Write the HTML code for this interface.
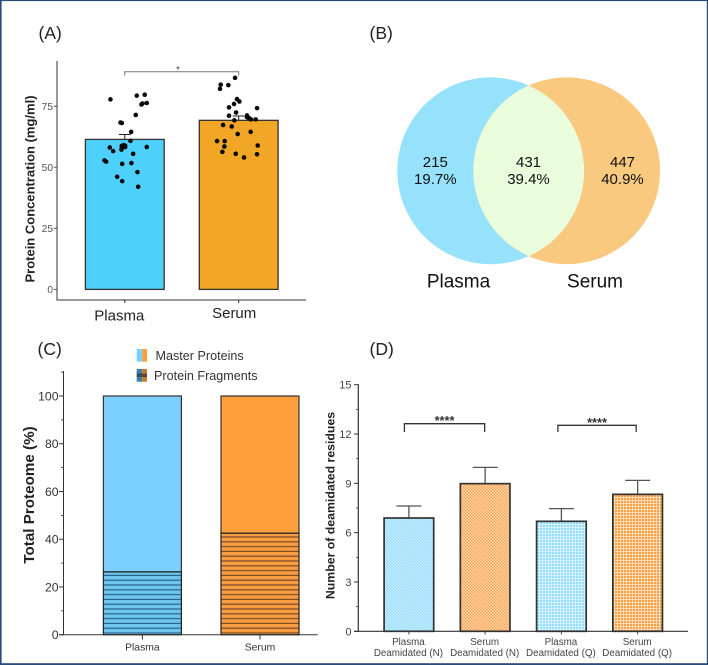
<!DOCTYPE html>
<html>
<head>
<meta charset="utf-8">
<title>Plasma and serum proteome figure</title>
<style>
html,body{margin:0;padding:0;background:#fff;}
svg{display:block;font-family:"Liberation Sans",sans-serif;filter:blur(0.35px);}
</style>
</head>
<body>
<svg id="fig" xmlns="http://www.w3.org/2000/svg" width="708" height="665" viewBox="0 0 708 665">
<defs>
<pattern id="hatchBlue" width="6" height="4.8" patternUnits="userSpaceOnUse"><rect width="6" height="4.8" fill="#6cc6ee"/><rect y="3.6" width="6" height="1.2" fill="#2c6288"/></pattern>
<pattern id="hatchOrange" width="6" height="4.8" patternUnits="userSpaceOnUse"><rect width="6" height="4.8" fill="#f79c40"/><rect y="3.6" width="6" height="1.2" fill="#7a4d24"/></pattern>
<pattern id="checkBlue" width="3" height="3" patternUnits="userSpaceOnUse"><rect width="3" height="3" fill="#d2f0ff"/><rect width="1.5" height="1.5" fill="#8fdcff"/><rect x="1.5" y="1.5" width="1.5" height="1.5" fill="#8fdcff"/></pattern>
<pattern id="checkOrange" width="3" height="3" patternUnits="userSpaceOnUse"><rect width="3" height="3" fill="#ffdcb8"/><rect width="1.5" height="1.5" fill="#ffa04a"/><rect x="1.5" y="1.5" width="1.5" height="1.5" fill="#ffa04a"/></pattern>
<pattern id="gridBlue" width="3" height="3" patternUnits="userSpaceOnUse"><rect width="3" height="3" fill="#dff5ff"/><rect width="2.1" height="2.1" fill="#92dcff"/></pattern>
<pattern id="gridOrange" width="3" height="3" patternUnits="userSpaceOnUse"><rect width="3" height="3" fill="#ffe0c0"/><rect width="2.1" height="2.1" fill="#ff9f42"/></pattern>
<clipPath id="vennLeftClip"><circle cx="490.7" cy="170.8" r="93.4"/></clipPath>
</defs>

<rect x="0" y="0" width="1.6" height="665" fill="#2a4a78"/>
<rect x="0" y="0" width="708" height="1.1" fill="#2a4a78"/>
<rect x="706.8" y="0" width="1.2" height="665" fill="#2a4a78"/>
<rect x="0" y="663.2" width="708" height="1.8" fill="#2a4a78"/>

<text x="38.5" y="39" font-size="17.5" fill="#222">(A)</text>
<text x="369.5" y="39" font-size="17.5" fill="#222">(B)</text>
<text x="37.5" y="355" font-size="17.5" fill="#222">(C)</text>
<text x="369.5" y="355" font-size="17.5" fill="#222">(D)</text>

<g id="panelA"></g>

<g id="panelB">
<circle cx="490.7" cy="170.8" r="93.4" fill="#96e2fc"/>
<circle cx="566.7" cy="170.8" r="93.4" fill="#f8c97e"/>
<circle cx="566.7" cy="170.8" r="93.4" fill="#e9fcdb" clip-path="url(#vennLeftClip)"/>
<g font-size="15" fill="#111" text-anchor="middle">
<text x="435.3" y="167">215</text>
<text x="435.3" y="184">19.7%</text>
<text x="528.5" y="167">431</text>
<text x="528.5" y="184">39.4%</text>
<text x="622.5" y="167">447</text>
<text x="622.5" y="184">40.9%</text>
</g>
<text x="458.5" y="287.5" font-size="19" fill="#111" text-anchor="middle">Plasma</text>
<text x="595" y="287.5" font-size="19" fill="#111" text-anchor="middle">Serum</text>
</g>

<g id="panelC">
<g>
<rect x="136.7" y="349" width="5.5" height="12.7" fill="#7bd0ff"/>
<rect x="142.2" y="349" width="4.8" height="12.7" fill="#ff9f3b"/>
<text x="155.5" y="360" font-size="12.6" fill="#333">Master Proteins</text>
</g>
<g>
<rect x="136.7" y="369" width="5.5" height="12.7" fill="#3a80a8"/>
<rect x="142.2" y="369" width="4.8" height="12.7" fill="#c67a30"/>
<rect x="136.7" y="373.5" width="10.3" height="3.5" fill="#3a3a3a" opacity="0.75"/>
<text x="154" y="380" font-size="12.6" fill="#333">Protein Fragments</text>
</g>
</g>

<g id="panelD"></g>
</svg>

<script>
// ---- Panel A data ----
var aCategories = ['Plasma', 'Serum'];
var aMeans = [61.4, 69.2];
var aErrorTops = [63.4, 71.0];
var aTicks = [0, 25, 50, 75];
var aPlasmaValues = [77.8,79.3,79.7,76.3,75.7,76.1,71.4,68.3,68.1,64.5,60.8,58.8,58.8,59.1,58.1,58.3,57.2,58.1,56.6,58.3,55.5,52.8,52.3,51.4,51.7,48.0,46.1,44.3,42.0];
var aPlasmaJitter = [-.126,.105,.175,.193,.146,.155,.096,-.038,-.026,.056,.05,-.026,.003,-.009,-.026,.003,-.029,-.132,-.102,.193,.073,-.178,-.164,-.023,.058,.111,-.067,-.023,.117];
var aSerumValues = [86.6,83.8,83.6,82.1,77.9,76.9,75.9,74.5,74.2,72.4,71.1,71.2,70.5,70.1,69.6,69.6,69.2,67.3,66.7,64.5,63.6,60.7,60.7,58.5,58.9,56.3,55.5,55.3,54.0];
var aSerumJitter = [-.032,-.158,-.091,-.164,-.015,.006,-.041,-.085,.161,-.023,-.085,.073,.073,.091,.108,.149,-.038,-.137,-.061,.105,-.009,-.19,-.123,-.126,.167,-.143,-.026,.161,.047];

// ---- Panel C data ----
var cCategories = ['Plasma', 'Serum'];
var cFragments = [26.3, 42.5];
var cMasters = [73.7, 57.5];
var cTicks = [0, 20, 40, 60, 80, 100];

// ---- Panel D data ----
var dLine1 = ['Plasma', 'Serum', 'Plasma', 'Serum'];
var dLine2 = ['Deamidated (N)', 'Deamidated (N)', 'Deamidated (Q)', 'Deamidated (Q)'];
var dMeans = [6.89, 8.98, 6.69, 8.33];
var dErrorTops = [7.62, 9.97, 7.46, 9.18];
var dTicks = [0, 3, 6, 9, 12, 15];
var dBracketLevels = [12.63, 12.53];

var NS = 'http://www.w3.org/2000/svg';
function make(parent, tag, props, txt) {
  var el = document.createElementNS(NS, tag);
  for (var k in props) { el.setAttribute(k, props[k]); }
  if (txt !== undefined) { el.textContent = txt; }
  parent.appendChild(el);
  return el;
}

// ---------- Panel A ----------
(function () {
  var g = document.getElementById('panelA');
  function y(v) { return 289.4 - v * 2.443; }
  function x(i) { return 124.8 + i * 113.9; }
  var el;
  el = make(g, 'line', {x1: 57, y1: 61, x2: 57, y2: 300.4, stroke: '#333', 'stroke-width': 1});
  
  
  el = make(g, 'line', {x1: 56.5, y1: 300, x2: 306, y2: 300, stroke: '#333', 'stroke-width': 1});
  
  
  aTicks.forEach(function (t) {
    el = make(g, 'line', {x1: 53.8, x2: 57, y1: y(t), y2: y(t), stroke: '#555', 'stroke-width': 1});
    
    
    el = make(g, 'text', {x: 53, y: y(t) + 3.8, 'font-size': 10.2, fill: '#555', 'text-anchor': 'end'}, t);
    
    
  });
  el = make(g, 'text', {x: 0, y: 0, transform: 'translate(34.5,189) rotate(-90)', 'font-size': 13, 'font-weight': 'bold', fill: '#222', 'text-anchor': 'middle'}, 'Protein Concentration (mg/ml)');
  
  
  var fills = ['#4dd0fc', '#f2a626'];
  var labelDx = [-5.5, -4.5];
  var labelY = [320.5, 318];
  aCategories.forEach(function (c, i) {
    el = make(g, 'rect', {x: x(i) - 39.4, y: y(aMeans[i]), width: 78.8, height: y(0) - y(aMeans[i]), fill: fills[i], stroke: '#333', 'stroke-width': 1.3});
    
    
    el = make(g, 'line', {x1: x(i), x2: x(i), y1: 300, y2: 303, stroke: '#333', 'stroke-width': 1});
    
    
    el = make(g, 'text', {x: x(i) + labelDx[i], y: labelY[i], 'font-size': 15, fill: '#222', 'text-anchor': 'middle'}, c);
    
    
    el = make(g, 'path', {d: 'M' + x(i) + ' ' + y(aMeans[i]) + 'V' + y(aErrorTops[i]) + 'M' + (x(i) - 6) + ' ' + y(aErrorTops[i]) + 'H' + (x(i) + 6), fill: 'none', stroke: '#222', 'stroke-width': 1});
    
    
  });
  function dots(vals, jit, i) {
    vals.forEach(function (v, k) {
      var d = make(g, 'circle', {cx: x(i) + jit[k] * 113.9, cy: y(v), r: 2.3, fill: '#0a0a0a'});
      
      
    });
  }
  dots(aPlasmaValues, aPlasmaJitter, 0);
  dots(aSerumValues, aSerumJitter, 1);
  el = make(g, 'path', {d: 'M' + x(0) + ' 75.5V71.7H' + x(1) + 'V75.5', fill: 'none', stroke: '#777', 'stroke-width': 1});
  
  
  el = make(g, 'text', {x: 178, y: 73, 'font-size': 10, fill: '#444', 'text-anchor': 'middle'}, '*');
  
  
})();

// ---------- Panel C ----------
(function () {
  var g = document.getElementById('panelC');
  function y(v) { return 634.7 - v * 2.387; }
  function x(i) { return 142.4 + i * 117.6; }
  var el;
  var masterFill = ['#7bd0ff', '#ff9f3b'];
  var fragFill = ['url(#hatchBlue)', 'url(#hatchOrange)'];
  cCategories.forEach(function (c, i) {
    var top = cFragments[i] + cMasters[i];
    el = make(g, 'rect', {x: x(i) - 39, y: y(top), width: 78, height: y(cFragments[i]) - y(top), fill: masterFill[i], stroke: '#333', 'stroke-width': 1.2});
    
    
    el = make(g, 'rect', {x: x(i) - 39, y: y(cFragments[i]), width: 78, height: y(0) - y(cFragments[i]), fill: fragFill[i], stroke: '#222', 'stroke-width': 1.2});
    
    
    el = make(g, 'line', {x1: x(i), x2: x(i), y1: 634.7, y2: 639.5, stroke: '#333', 'stroke-width': 1});
    
    
    el = make(g, 'text', {x: x(i), y: 650.5, 'font-size': 10.4, fill: '#333', 'text-anchor': 'middle'}, c);
    
    
  });
  el = make(g, 'line', {x1: 63.5, y1: 371, x2: 63.5, y2: 635.2, stroke: '#333', 'stroke-width': 1});
  
  
  el = make(g, 'line', {x1: 59, y1: 634.7, x2: 317.7, y2: 634.7, stroke: '#333', 'stroke-width': 1});
  
  
  cTicks.forEach(function (t, k) {
    el = make(g, 'line', {x1: 59, x2: 63.5, y1: y(t), y2: y(t), stroke: '#333', 'stroke-width': 1});
    
    
    el = make(g, 'text', {x: 58.5, y: y(t) + 4.4, 'font-size': 12.2, fill: '#333', 'text-anchor': 'end'}, t);
    
    
    var mid = t + (cTicks[1] - cTicks[0]) / 2;
    el = make(g, 'line', {x1: 61, x2: 63.5, y1: y(mid), y2: y(mid), stroke: '#333', 'stroke-width': 0.8});
    
    
  });
  el = make(g, 'text', {x: 0, y: 0, transform: 'translate(34,495) rotate(-90)', 'font-size': 15.2, 'font-weight': 'bold', fill: '#222', 'text-anchor': 'middle'}, 'Total Proteome (%)');
  
  
})();

// ---------- Panel D ----------
(function () {
  var g = document.getElementById('panelD');
  function y(v) { return 631.3 - v * 16.44; }
  function x(i) { return 408.9 + i * 76.25; }
  var el;
  var fills = ['url(#checkBlue)', 'url(#checkOrange)', 'url(#gridBlue)', 'url(#gridOrange)'];
  dMeans.forEach(function (m, i) {
    el = make(g, 'path', {d: 'M' + x(i) + ' ' + y(m) + 'V' + y(dErrorTops[i]) + 'M' + (x(i) - 12.5) + ' ' + y(dErrorTops[i]) + 'H' + (x(i) + 12.5), fill: 'none', stroke: '#555', 'stroke-width': 1.3});
    
    
    el = make(g, 'rect', {x: x(i) - 24.8, y: y(m), width: 49.6, height: y(0) - y(m), fill: fills[i], stroke: '#333', 'stroke-width': 1.7});
    
    
    el = make(g, 'line', {x1: x(i), x2: x(i), y1: 631.3, y2: 634.5, stroke: '#444', 'stroke-width': 1});
    
    
    el = make(g, 'text', {x: x(i) - 0.5, y: 645, 'font-size': 9.8, fill: '#444', 'text-anchor': 'middle'}, dLine1[i]);
    
    
    el = make(g, 'text', {x: x(i) - 0.5, y: 656, 'font-size': 9.8, fill: '#444', 'text-anchor': 'middle'}, dLine2[i]);
    
    
  });
  el = make(g, 'line', {x1: 358.3, y1: 384.2, x2: 358.3, y2: 631.8, stroke: '#333', 'stroke-width': 1.2});
  
  
  el = make(g, 'line', {x1: 354, y1: 631.3, x2: 688, y2: 631.3, stroke: '#333', 'stroke-width': 1.2});
  
  
  dTicks.forEach(function (t, k) {
    el = make(g, 'line', {x1: 354, x2: 358.3, y1: y(t), y2: y(t), stroke: '#333', 'stroke-width': 1});
    
    
    el = make(g, 'text', {x: 351.5, y: y(t) + 4, 'font-size': 11, fill: '#444', 'text-anchor': 'end'}, t);
    
    
    if (k < dTicks.length - 1) {
      var mid = (t + dTicks[k + 1]) / 2;
      el = make(g, 'line', {x1: 356, x2: 358.3, y1: y(mid), y2: y(mid), stroke: '#333', 'stroke-width': 0.8});
      
      
    }
  });
  el = make(g, 'text', {x: 0, y: 0, transform: 'translate(334.5,505.5) rotate(-90)', 'font-size': 12.3, 'font-weight': 'bold', fill: '#222', 'text-anchor': 'middle'}, 'Number of deamidated residues');
  
  
  dBracketLevels.forEach(function (lvl, b) {
    var x1 = x(b * 2) - 4.5, x2 = x(b * 2 + 1) - 0.5;
    if (b === 1) { x1 = x(2) - 3.5; x2 = x(3) - 1.5; }
    el = make(g, 'path', {d: 'M' + x1 + ' 432V' + y(lvl) + 'H' + x2 + 'V432', fill: 'none', stroke: '#333', 'stroke-width': 1.3});
    
    
    el = make(g, 'text', {x: (x1 + x2) / 2, y: y(lvl) + 1.5, 'font-size': 12.8, 'font-weight': 'bold', fill: '#333', 'text-anchor': 'middle'}, '****');
    
    
  });
})();
</script>
</body>
</html>
